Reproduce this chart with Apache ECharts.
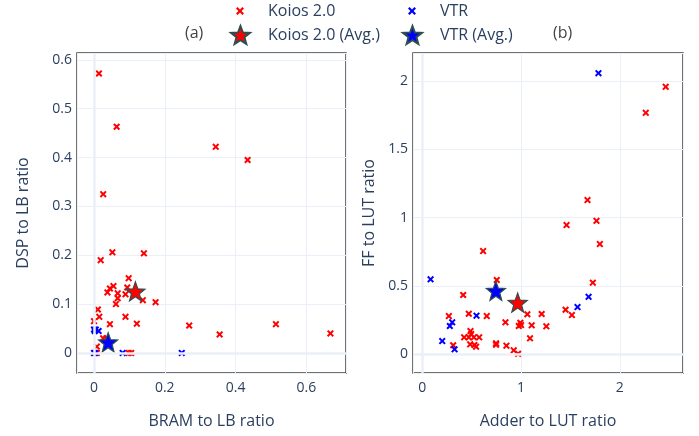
<!DOCTYPE html>
<html>
<head>
<meta charset="utf-8">
<script src="https://cdn.jsdelivr.net/npm/echarts@6/dist/echarts.min.js"></script>
<style>
  html, body { margin: 0; background: #fff; }
  #chart { width: 699px; height: 436px; }
</style>
</head>
<body>
<div id="chart"></div>
<script>
// (a) BRAM/LB vs DSP/LB
var koiosBramLb = [0.014, 0.064, 0.344, 0.434, 0.026, 0.052, 0.141, 0.019, 0.098, 0.094, 0.055, 0.045, 0.038, 0.067, 0.089, 0.067, 0.138, 0.174, 0.062, 0.011, 0.015, 0.000, 0.089, 0.045, 0.121, 0.269, 0.355, 0.514, 0.668, 0.026, 0.035, 0.008, 0.008, 0.098, 0.105];
var koiosDspLb  = [0.572, 0.463, 0.422, 0.395, 0.325, 0.206, 0.204, 0.190, 0.153, 0.134, 0.137, 0.132, 0.124, 0.122, 0.120, 0.112, 0.108, 0.104, 0.100, 0.089, 0.074, 0.065, 0.074, 0.059, 0.060, 0.056, 0.038, 0.059, 0.040, 0.030, 0.030, 0.013, 0.000, 0.000, 0.000];
var vtrBramLb = [0.000, 0.005, 0.013, 0.002, 0.000, 0.003, 0.081, 0.248];
var vtrDspLb  = [0.048, 0.048, 0.045, 0.045, 0.000, 0.000, 0.000, 0.000];
var avgBramLb = { koios: [0.117, 0.126], vtr: [0.040, 0.022] };

// (b) Adder/LUT vs FF/LUT
var koiosAdderLut = [2.465, 2.263, 1.673, 1.764, 1.461, 1.798, 0.616, 1.727, 0.754, 0.414, 1.451, 1.515, 1.209, 1.064, 0.471, 0.269, 0.653, 0.842, 0.993, 0.977, 1.000, 1.108, 1.256, 0.488, 0.495, 0.471, 0.522, 0.424, 0.576, 1.091, 0.485, 0.528, 0.545, 0.747, 0.747, 0.852, 0.313, 0.926, 0.970];
var koiosFfLut    = [1.958, 1.768, 1.129, 0.977, 0.946, 0.807, 0.756, 0.524, 0.544, 0.434, 0.326, 0.287, 0.295, 0.293, 0.297, 0.280, 0.280, 0.234, 0.231, 0.207, 0.214, 0.212, 0.205, 0.170, 0.148, 0.124, 0.124, 0.124, 0.124, 0.117, 0.073, 0.068, 0.056, 0.080, 0.070, 0.063, 0.066, 0.029, 0.004];
var vtrAdderLut = [1.784, 0.084, 1.684, 1.572, 0.549, 0.303, 0.279, 0.202, 0.327];
var vtrFfLut    = [2.058, 0.549, 0.421, 0.346, 0.283, 0.234, 0.207, 0.097, 0.036];
var avgAdderLut = { koios: [0.966, 0.378], vtr: [0.745, 0.465] };

var xSymbol = 'path://M0,2 L2,0 L5,3 L8,0 L10,2 L7,5 L10,8 L8,10 L5,7 L2,10 L0,8 L3,5 Z';
var starSymbol = 'path://M10,0 L12.47,6.6 L19.51,6.91 L13.99,11.3 L15.88,18.09 L10,14.2 L4.12,18.09 L6.01,11.3 L0.49,6.91 L7.53,6.6 Z';
var textColor = '#2a3f5f';
var gridColor = '#ebf0f8';

function zip(xs, ys) {
  return xs.map(function (x, i) { return [x, ys[i]]; });
}

function valueAxis(idx, name, min, max, split, gap, margin) {
  return {
    type: 'value', gridIndex: idx, min: min, max: max, splitNumber: split,
    name: name, nameLocation: 'middle', nameGap: gap,
    nameTextStyle: { fontSize: 16, color: textColor },
    axisLine: { show: false }, axisTick: { show: false },
    axisLabel: { fontSize: 14, color: textColor, margin: margin, showMinLabel: false, showMaxLabel: false },
    splitLine: { lineStyle: { color: gridColor, width: 1 } }
  };
}

function points(name, data, idx, color) {
  return {
    name: name, type: 'scatter', xAxisIndex: idx, yAxisIndex: idx,
    symbol: xSymbol, symbolSize: 7, itemStyle: { color: color, opacity: 1 },
    data: data, z: 3
  };
}

function avg(name, pt, idx, color) {
  return {
    name: name, type: 'scatter', xAxisIndex: idx, yAxisIndex: idx,
    symbol: starSymbol, symbolSize: 19,
    itemStyle: { color: color, borderColor: '#2f4f4f', borderWidth: 1.2, opacity: 1 },
    data: [pt], z: 4
  };
}

// zero lines are a bit heavier than the grid
function zeroLines(idx) {
  return {
    type: 'scatter', xAxisIndex: idx, yAxisIndex: idx, data: [], silent: true, z: 2,
    markLine: {
      symbol: 'none', silent: true, label: { show: false }, animation: false,
      lineStyle: { color: gridColor, width: 2.5, type: 'solid' },
      data: [{ xAxis: 0 }, { yAxis: 0 }]
    }
  };
}

// one legend per entry so the 2x2 layout lines up
function legendItem(name, left, top, icon, w, h, pad) {
  return {
    data: [name], left: left, top: top, padding: 0,
    itemWidth: w, itemHeight: h, icon: icon,
    textStyle: { fontSize: 16, color: textColor, padding: [0, 0, 0, pad] }
  };
}

var chart = echarts.init(document.getElementById('chart'));
chart.setOption({
  animation: false,
  backgroundColor: '#fff',
  textStyle: { fontFamily: 'Open Sans' },
  title: [
    { text: '(a)', left: 185, top: 25, padding: 0, textStyle: { fontSize: 16, fontWeight: 'normal', color: '#444' } },
    { text: '(b)', left: 553, top: 25, padding: 0, textStyle: { fontSize: 16, fontWeight: 'normal', color: '#444' } }
  ],
  legend: [
    legendItem('Koios 2.0', 236, 3, xSymbol, 8, 8, 19),
    legendItem('VTR', 408, 3, xSymbol, 8, 8, 19),
    legendItem('Koios 2.0 (Avg.)', 230, 25, starSymbol, 19, 18, 13),
    legendItem('VTR (Avg.)', 402, 25, starSymbol, 19, 18, 13)
  ],
  grid: [
    { left: 77, top: 53, width: 269, height: 320, show: true, borderColor: '#444', borderWidth: 1.5, backgroundColor: '#fff' },
    { left: 413, top: 53, width: 270, height: 320, show: true, borderColor: '#444', borderWidth: 1.5, backgroundColor: '#fff' }
  ],
  xAxis: [
    valueAxis(0, 'BRAM to LB ratio', -0.048, 0.712, 4, 40, 8),
    valueAxis(1, 'Adder to LUT ratio', -0.094, 2.64, 3, 40, 8)
  ],
  yAxis: [
    valueAxis(0, 'DSP to LB ratio', -0.041, 0.614, 6, 46, 5),
    valueAxis(1, 'FF to LUT ratio', -0.137, 2.206, 5, 36, 5)
  ],
  series: [
    zeroLines(0),
    zeroLines(1),
    points('Koios 2.0', zip(koiosBramLb, koiosDspLb), 0, '#ff0000'),
    points('VTR', zip(vtrBramLb, vtrDspLb), 0, '#0000ff'),
    avg('Koios 2.0 (Avg.)', avgBramLb.koios, 0, '#ff0000'),
    avg('VTR (Avg.)', avgBramLb.vtr, 0, '#0000ff'),
    points('Koios 2.0', zip(koiosAdderLut, koiosFfLut), 1, '#ff0000'),
    points('VTR', zip(vtrAdderLut, vtrFfLut), 1, '#0000ff'),
    avg('Koios 2.0 (Avg.)', avgAdderLut.koios, 1, '#ff0000'),
    avg('VTR (Avg.)', avgAdderLut.vtr, 1, '#0000ff')
  ]
});
</script>
</body>
</html>
